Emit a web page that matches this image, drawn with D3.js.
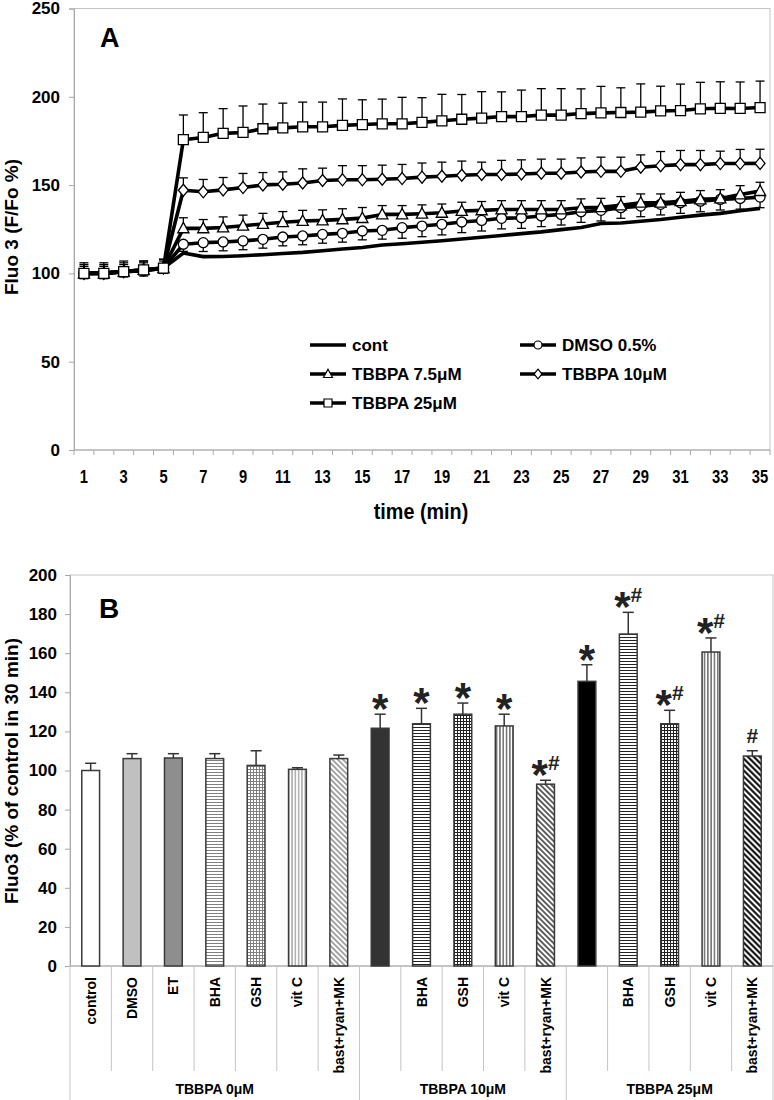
<!DOCTYPE html>
<html>
<head>
<meta charset="utf-8">
<script src="https://cdn.jsdelivr.net/npm/d3@7"></script>
<style>
body { margin: 0; background: #fff; }
svg text { font-family: "Liberation Sans", Arial, sans-serif; font-weight: bold; fill: #000; }
</style>
</head>
<body>
<svg id="chart" width="774" height="1100"></svg>
<script>
// ---------- panel A data ----------
var minutes = [1,2,3,4,5,6,7,8,9,10,11,12,13,14,15,16,17,18,19,20,21,22,23,24,25,26,27,28,29,30,31,32,33,34,35];
var timeTicks = [1,3,5,7,9,11,13,15,17,19,21,23,25,27,29,31,33,35];
var yTicksA = [0,50,100,150,200,250];

var contVals = [100,100.5,101,101.5,103, 111.5,109.5,109.6,110,110.6,111.3,111.9,112.8,113.8,114.7,
  116.1,116.8,117.6,118.5,119.5,120.5,121.5,122.5,123.5,124.8,126,128.3,128.5,129.5,130.5,131.8,133,134,135.5,136.8];
var dmsoVals = [100,100,101,101.5,103, 116.5,117.4,117.8,118.4,119.3,120.6,121.2,122.1,122.7,124,
  124.4,125.9,126.8,127.8,129.1,130,131.2,131.5,132.5,133.4,134.9,135.7,137.2,138.1,139.1,140,140.9,141.9,142.4,143.2];
var dmsoErr = [3,3,3,3,3, 4,5,5,5,5,5,5,5,5,5, 5,6,6,6,6,6,6,6,6,6,6,6,6,6,6,6,6,6,6,6];
var tri75Vals = [100,100,101,102,103, 125.5,125.5,126,127,128,129,129.7,130,130.6,131.3,
  133.4,133.4,133.8,134.3,135.3,135.7,136.2,136.2,136.2,136.2,137.2,137.5,138.5,140,140,140.9,141.9,142.4,144.7,146.6];
var tri75Err = [4,4,4,4,4, 6,5,6,6,6,6,6,6,6,6, 5,5,5,5,5,5,5,5,5,5,5,5,5,5,5,5,5,5,5,5];
var dia10Vals = [100,100,101,102,103, 147.1,146.2,147.3,148.6,150.1,150.5,151.2,152.6,153,153,
  153.3,153.7,154.5,155,155.6,156,156,156.3,156.7,156.7,157.4,157.8,157.8,160.1,161,161.6,161.6,162.2,162.2,162.3];
var dia10Err = [5,5,5,5,5, 7,7,7,8,7,7,8,7,8,8, 8,8,8,8,8,7,8,8,8,8,8,8,8,7,8,8,8,7,8,8];
var sq25Vals = [100,100,101,102,103, 175.7,177,179.3,179.8,181.9,182.4,183,183,183.8,184.3,
  184.7,184.7,185.5,186.4,187.3,187.9,188.8,188.8,189.6,189.6,190.5,190.9,191.1,191.3,192,192.2,193.2,193.5,193.4,193.9];
var sq25Err = [6,6,6,5,5, 14,14,14,15,14,14,14,14,15,14, 14,15,14,15,14,15,14,15,15,15,14,15,14,16,14,15,15,15,15,15];

// ---------- panel B data ----------
var barLabels = ['control','DMSO','ET','BHA','GSH','vit C','bast+ryan+MK',
  '','BHA','GSH','vit C','bast+ryan+MK',
  '','BHA','GSH','vit C','bast+ryan+MK'];
var barValues = [100,106.1,106.4,106.1,102.6,100.6,106.1, 121.6,123.9,128.8,122.8,93, 145.6,169.8,123.9,160.6,107.4];
var barErrors = [3.7,2.5,2.2,2.5,7.5,0.8,1.8, 7.2,7.9,5.7,6,2, 8.5,11.1,6.9,7.2,2.7];
var barMarks = ['','','','','','','', '*','*','*','*','*#', '*','*#','*#','*#','#'];
var groupNames = ['TBBPA 0\u03bcM','TBBPA 10\u03bcM','TBBPA 25\u03bcM'];
var groupSizes = [7,5,5];
var yTicksB = [0,20,40,60,80,100,120,140,160,180,200];

var barFills = ['#ffffff','#c0c0c0','#8e8e8e','url(#h0)','url(#g0)','url(#v0)','url(#d0)',
  '#333333','url(#h1)','url(#g1)','url(#v1)','url(#d1)',
  '#000000','url(#h1)','url(#g1)','url(#v1)','url(#d2)'];

var svg = d3.select('#chart');
var axisGrey = '#a8a8a8';

//=======================
// patterns
//=======================
var defs = svg.append('defs');
function addPattern (id, type, color, size, sw) {
	var p = defs.append('pattern')
		.attr('id', id)
		.attr('patternUnits', 'userSpaceOnUse')
		.attr('width', size)
		.attr('height', size);
	if (type == 'd') p.attr('patternTransform', 'rotate(-45)');
	p.append('rect').attr('width', size).attr('height', size).attr('fill', '#fff');
	if (type == 'h' || type == 'g') {
		p.append('line').attr('x1', 0).attr('x2', size).attr('y1', size / 2).attr('y2', size / 2)
			.attr('stroke', color).attr('stroke-width', sw);
	}
	if (type == 'v' || type == 'g' || type == 'd') {
		p.append('line').attr('y1', 0).attr('y2', size).attr('x1', size / 2).attr('x2', size / 2)
			.attr('stroke', color).attr('stroke-width', sw);
	}
}
addPattern('h0', 'h', '#808080', 3, 1);
addPattern('g0', 'g', '#808080', 3, 1);
addPattern('v0', 'v', '#808080', 3.3, 1);
addPattern('d0', 'd', '#808080', 3.8, 1.4);
addPattern('h1', 'h', '#222', 3, 1);
addPattern('g1', 'g', '#222', 3, 1);
addPattern('v1', 'v', '#222', 3.3, 1);
addPattern('d1', 'd', '#222', 3.8, 1.4);
addPattern('d2', 'd', '#000', 4.2, 2);

//=======================
// [A] time course
//=======================
var xA = d3.scaleBand().domain(minutes).range([74, 770]);
var yA = d3.scaleLinear().domain([0, 250]).range([450, 8.5]);
function cx (m) { return xA(m) + xA.bandwidth() / 2; }

var gA = svg.append('g');

gA.append('rect')
	.attr('x', 74).attr('y', yA(250))
	.attr('width', 770 - 74).attr('height', yA(0) - yA(250))
	.attr('fill', 'none').attr('stroke', '#c4c4c4');

var axA = gA.append('g')
	.attr('transform', 'translate(74,0)')
	.call(d3.axisLeft(yA).tickValues(yTicksA).tickSize(5).tickPadding(9));
axA.select('.domain').attr('stroke', axisGrey);
axA.selectAll('.tick line').attr('stroke', axisGrey);
axA.selectAll('.tick text').style('font-size', '17px');

// x axis: ticks at category borders, labels centred
var bx = gA.append('g');
bx.append('line').attr('x1', 74).attr('x2', 770).attr('y1', 450).attr('y2', 450).attr('stroke', axisGrey);
bx.selectAll('.bt')
	.data(minutes.concat(['end']))
	.enter().append('line')
	.attr('x1', function (d) { return d == 'end' ? 770 : xA(d); })
	.attr('x2', function (d) { return d == 'end' ? 770 : xA(d); })
	.attr('y1', 450).attr('y2', 455)
	.attr('stroke', axisGrey);
bx.selectAll('.tl')
	.data(timeTicks)
	.enter().append('text')
	.attr('transform', function (d) { return 'translate(' + cx(d) + ',483) scale(0.82,1)'; })
	.attr('text-anchor', 'middle')
	.style('font-size', '18px')
	.text(function (d) { return d; });

gA.append('text')
	.attr('transform', 'translate(421,519) scale(0.9,1)')
	.attr('text-anchor', 'middle')
	.style('font-size', '22px')
	.text('time (min)');

gA.append('text')
	.attr('transform', 'translate(18,227) rotate(-90)')
	.attr('text-anchor', 'middle')
	.style('font-size', '19px')
	.text('Fluo 3 (F/Fo %)');

gA.append('text')
	.attr('x', 100).attr('y', 47)
	.style('font-size', '27px')
	.text('A');

// marker shapes
var shapes = {
	none: null,
	circle: 'M0,-5A5,5 0 1,1 0,5A5,5 0 1,1 0,-5Z',
	triangle: 'M0,-6L5.6,4.4L-5.6,4.4Z',
	diamond: 'M0,-6L5,0L0,6L-5,0Z',
	square: 'M-5,-5H5V5H-5Z'
};

var series = [
	{ name: 'cont', vals: contVals, err: null, dir: 0, shape: 'none' },
	{ name: 'DMSO 0.5%', vals: dmsoVals, err: dmsoErr, dir: -1, shape: 'circle' },
	{ name: 'TBBPA 7.5\u03bcM', vals: tri75Vals, err: tri75Err, dir: 1, shape: 'triangle' },
	{ name: 'TBBPA 10\u03bcM', vals: dia10Vals, err: dia10Err, dir: 1, shape: 'diamond' },
	{ name: 'TBBPA 25\u03bcM', vals: sq25Vals, err: sq25Err, dir: 1, shape: 'square' }
];

var line = d3.line()
	.x(function (d, i) { return cx(minutes[i]); })
	.y(function (d) { return yA(d); });

series.forEach(function (s) {
	var g = gA.append('g');
	g.append('path')
		.attr('d', line(s.vals))
		.attr('fill', 'none')
		.attr('stroke', '#000')
		.attr('stroke-width', 3.6)
		.attr('stroke-linejoin', 'round');
	if (s.err) {
		var eb = g.selectAll('.eb')
			.data(s.vals)
			.enter().append('g');
		eb.append('line')
			.attr('x1', function (d, i) { return cx(minutes[i]); })
			.attr('x2', function (d, i) { return cx(minutes[i]); })
			.attr('y1', function (d) { return yA(d); })
			.attr('y2', function (d, i) { return yA(d + s.dir * s.err[i]); })
			.attr('stroke', '#000').attr('stroke-width', 1.3);
		eb.append('line')
			.attr('x1', function (d, i) { return cx(minutes[i]) - 4.5; })
			.attr('x2', function (d, i) { return cx(minutes[i]) + 4.5; })
			.attr('y1', function (d, i) { return yA(d + s.dir * s.err[i]); })
			.attr('y2', function (d, i) { return yA(d + s.dir * s.err[i]); })
			.attr('stroke', '#000').attr('stroke-width', 1.3);
	}
	if (shapes[s.shape]) {
		g.selectAll('.mk')
			.data(s.vals)
			.enter().append('path')
			.attr('d', shapes[s.shape])
			.attr('transform', function (d, i) { return 'translate(' + cx(minutes[i]) + ',' + yA(d) + ')'; })
			.attr('fill', '#fff')
			.attr('stroke', '#000')
			.attr('stroke-width', 1.3);
	}
});

// legend
var legendPos = [
	{ s: 0, x: 310, y: 345 },
	{ s: 1, x: 520, y: 345 },
	{ s: 2, x: 310, y: 374 },
	{ s: 3, x: 520, y: 374 },
	{ s: 4, x: 310, y: 403 }
];
var lg = gA.append('g');
legendPos.forEach(function (p) {
	var s = series[p.s];
	lg.append('line')
		.attr('x1', p.x).attr('x2', p.x + 36)
		.attr('y1', p.y).attr('y2', p.y)
		.attr('stroke', '#000').attr('stroke-width', 3.6);
	if (shapes[s.shape]) {
		lg.append('path')
			.attr('d', shapes[s.shape])
			.attr('transform', 'translate(' + (p.x + 18) + ',' + p.y + ') scale(0.8)')
			.attr('fill', '#fff').attr('stroke', '#000').attr('stroke-width', 1.5);
	}
	lg.append('text')
		.attr('x', p.x + 42).attr('y', p.y + 6)
		.style('font-size', '17px')
		.text(s.name);
});

//=======================
// [B] bars at 30 min
//=======================
var xB = d3.scaleBand().domain(d3.range(barLabels.length)).range([70, 773]);
var yB = d3.scaleLinear().domain([0, 200]).range([966, 575]);
var bw = xB.bandwidth();
var barW = bw * 0.43;
function bcx (i) { return xB(i) + bw / 2; }

var gB = svg.append('g');

gB.append('rect')
	.attr('x', 70).attr('y', yB(200))
	.attr('width', 773 - 70).attr('height', yB(0) - yB(200))
	.attr('fill', 'none').attr('stroke', '#c4c4c4');

var axB = gB.append('g')
	.attr('transform', 'translate(70,0)')
	.call(d3.axisLeft(yB).tickValues(yTicksB).tickSize(5).tickPadding(8));
axB.select('.domain').attr('stroke', axisGrey);
axB.selectAll('.tick line').attr('stroke', axisGrey);
axB.selectAll('.tick text').style('font-size', '17px');

gB.append('line').attr('x1', 70).attr('x2', 773).attr('y1', 966).attr('y2', 966).attr('stroke', axisGrey);

// category / group separators
var groupStarts = [0];
groupSizes.forEach(function (n, k) { groupStarts.push(groupStarts[k] + n); });
gB.selectAll('.sep')
	.data(d3.range(barLabels.length + 1))
	.enter().append('line')
	.attr('x1', function (i) { return 70 + i * bw; })
	.attr('x2', function (i) { return 70 + i * bw; })
	.attr('y1', 966)
	.attr('y2', function (i) { return groupStarts.indexOf(i) >= 0 ? 1100 : 1071; })
	.attr('stroke', '#c4c4c4');

gB.selectAll('.cl')
	.data(barLabels)
	.enter().append('text')
	.attr('transform', function (d, i) { return 'translate(' + bcx(i) + ',977) rotate(-90)'; })
	.attr('text-anchor', 'end')
	.attr('dy', '0.36em')
	.style('font-size', '14px')
	.text(function (d) { return d; });

gB.selectAll('.gl')
	.data(groupNames)
	.enter().append('text')
	.attr('x', function (d, k) { return 70 + (groupStarts[k] + groupSizes[k] / 2) * bw; })
	.attr('y', 1094)
	.attr('text-anchor', 'middle')
	.style('font-size', '14px')
	.text(function (d) { return d; });

// bars
gB.selectAll('.bar')
	.data(barValues)
	.enter().append('rect')
	.attr('x', function (d, i) { return bcx(i) - barW / 2; })
	.attr('y', function (d) { return yB(d); })
	.attr('width', barW)
	.attr('height', function (d) { return yB(0) - yB(d); })
	.attr('fill', function (d, i) { return barFills[i]; })
	.attr('stroke', '#3a3a3a')
	.attr('stroke-width', 1.5);

// error bars
var ebB = gB.selectAll('.ebb')
	.data(barValues)
	.enter().append('g');
ebB.append('line')
	.attr('x1', function (d, i) { return bcx(i); })
	.attr('x2', function (d, i) { return bcx(i); })
	.attr('y1', function (d) { return yB(d); })
	.attr('y2', function (d, i) { return yB(d + barErrors[i]); })
	.attr('stroke', '#333').attr('stroke-width', 1.5);
ebB.append('line')
	.attr('x1', function (d, i) { return bcx(i) - 5.5; })
	.attr('x2', function (d, i) { return bcx(i) + 5.5; })
	.attr('y1', function (d, i) { return yB(d + barErrors[i]); })
	.attr('y2', function (d, i) { return yB(d + barErrors[i]); })
	.attr('stroke', '#333').attr('stroke-width', 1.5);

// significance marks
barMarks.forEach(function (m, i) {
	if (!m) return;
	var capY = yB(barValues[i] + barErrors[i]);
	var t = gB.append('text')
		.attr('x', bcx(i))
		.attr('text-anchor', 'middle')
		.style('fill', '#222');
	if (m.indexOf('*') >= 0) {
		t.attr('y', capY + 9);
		t.append('tspan').style('font-size', '42px').text('*');
		if (m.indexOf('#') >= 0) {
			t.append('tspan').attr('dy', -19).style('font-size', '21px').text('#');
		}
	} else {
		t.attr('y', capY - 7.5)
			.style('font-size', '21px')
			.text(m);
	}
});

gB.append('text')
	.attr('transform', 'translate(18,771) rotate(-90)')
	.attr('text-anchor', 'middle')
	.style('font-size', '19px')
	.text('Fluo3 (% of control in 30 min)');

gB.append('text')
	.attr('x', 99).attr('y', 618)
	.style('font-size', '28px')
	.text('B');
</script>
</body>
</html>
